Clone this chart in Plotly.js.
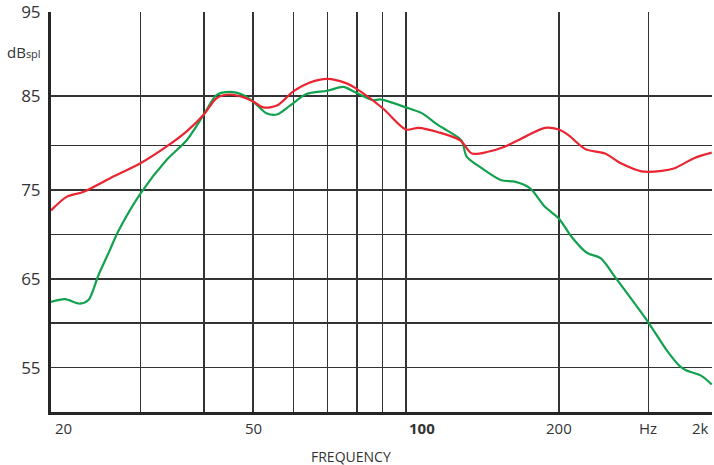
<!DOCTYPE html>
<html>
<head>
<meta charset="utf-8">
<script src="https://cdn.plot.ly/plotly-3.0.1.min.js"></script>
<style>html,body{margin:0;padding:0;background:#fff;}#chart{width:714px;height:465px;}</style>
</head>
<body>
<div id="chart"></div>
<script>
// Red curve (frequency in Hz, level in dB SPL)
const redFreq = [20, 21.5, 23.2, 26.1, 30, 33.8, 37, 40, 42.4, 45, 47.8, 50, 52.4, 55.7, 60, 64.7, 70, 76.4, 79.4, 90, 100, 105.8, 115.8, 127.8, 134.9, 145, 156.8, 168.9, 187.8, 200, 208.6, 225.5, 246.7, 265, 291, 319, 338, 370, 400];
const redDb   = [72.7, 74.25, 74.8, 76.3, 78.0, 79.9, 81.6, 83.5, 85.35, 85.75, 85.45, 84.96, 84.3, 84.5, 86.1, 87.1, 87.5, 87.0, 86.5, 84.2, 81.8, 82.0, 81.5, 80.6, 79.1, 79.3, 79.9, 80.8, 82.0, 81.8, 81.2, 79.6, 79.1, 78.0, 77.1, 77.15, 77.45, 78.6, 79.2];

// Green curve
const greenFreq = [20, 21.3, 22.8, 23.7, 24.8, 26.1, 27.1, 30, 33.8, 37, 40, 42.4, 45, 47.8, 50, 53.1, 55.7, 59.1, 63.7, 70, 75.3, 79.4, 86.2, 89, 100, 107.4, 115.8, 126.8, 129, 131.7, 141, 154, 163.8, 175.4, 187.8, 200, 212, 227, 242, 258, 300, 326, 346, 356, 381, 400];
const greenDb   = [62.4, 62.7, 62.2, 62.6, 65.4, 68.2, 70.3, 74.6, 78.4, 80.6, 83.5, 85.7, 86.05, 85.7, 84.96, 83.65, 83.5, 84.5, 85.8, 86.17, 86.6, 86.0, 85.1, 85.2, 84.3, 83.65, 82.3, 80.9, 80.45, 78.76, 77.45, 76.1, 75.94, 75.2, 73.1, 71.8, 69.7, 67.93, 67.3, 65.2, 60.1, 56.96, 55.16, 54.7, 54.1, 53.1];

// Axis grid and labels
const xGrid = [20, 30, 40, 50, 60, 70, 80, 90, 100, 200, 300, 400];
const xLabels = [
  {f: 20, text: "20", anchor: "left", shift: 2, bold: false},
  {f: 50, text: "50", anchor: "center", shift: 0, bold: false},
  {f: 100, text: "100", anchor: "center", shift: 16, bold: true},
  {f: 200, text: "200", anchor: "center", shift: 0, bold: false},
  {f: 300, text: "Hz", anchor: "center", shift: 0, bold: false},
  {f: 400, text: "2k", anchor: "right", shift: -1, bold: false}
];
const yGrid = [50, 55, 60, 65, 70, 75, 80, 85.6, 95];
const yText = ["", "55", "", "65", "", "75", "", "85", "95"];

const FONT = "Open Sans, Noto Sans, sans-serif";
const TXT = "#333333";

const traces = [
  {x: greenFreq, y: greenDb, type: "scatter", mode: "lines",
   line: {color: "#12a14e", width: 2.2, shape: "spline", smoothing: 0.8}, hoverinfo: "x+y"},
  {x: redFreq, y: redDb, type: "scatter", mode: "lines",
   line: {color: "#ea2430", width: 2.2, shape: "spline", smoothing: 0.8}, hoverinfo: "x+y"}
];

const annotations = xLabels.map(l => ({
  x: Math.log10(l.f), y: 0, xref: "x", yref: "paper",
  text: l.bold ? "<b>" + l.text + "</b>" : l.text,
  xanchor: l.anchor, yanchor: "top", xshift: l.shift, yshift: -4,
  showarrow: false, font: {family: FONT, size: 15, color: TXT}
}));
annotations.push({
  x: (351 - 51) / 661, y: -0.112, xref: "paper", yref: "paper",
  text: "FREQUENCY", xanchor: "center", yanchor: "middle", showarrow: false,
  font: {family: FONT, size: 14, color: TXT}
});
annotations.push({
  x: (5 - 51) / 661, y: (412 - 52) / 400, xref: "paper", yref: "paper",
  text: "dB<span style='font-size:11px'>spl</span>", xanchor: "left", yanchor: "middle",
  showarrow: false, font: {family: FONT, size: 15, color: TXT}
});

const layout = {
  width: 714, height: 465,
  margin: {l: 51, r: 2, t: 12, b: 53},
  paper_bgcolor: "#ffffff", plot_bgcolor: "#ffffff",
  showlegend: false,
  xaxis: {
    type: "log", range: [Math.log10(20), Math.log10(400.5)],
    tickmode: "array", tickvals: xGrid, showticklabels: false, ticks: "",
    showgrid: true, gridcolor: "#333333", gridwidth: 1.5,
    showline: true, linecolor: "#262626", linewidth: 3,
    zeroline: false, fixedrange: true
  },
  yaxis: {
    range: [50, 95.04],
    tickmode: "array", tickvals: yGrid, ticktext: yText, ticks: "",
    ticklabelstandoff: 4,
    tickfont: {family: FONT, size: 17, color: TXT},
    showgrid: true, gridcolor: "#333333", gridwidth: 1.5,
    showline: true, linecolor: "#262626", linewidth: 3,
    zeroline: false, fixedrange: true
  },
  annotations: annotations
};

Plotly.newPlot("chart", traces, layout, {displayModeBar: false, staticPlot: true});
</script>
</body>
</html>
